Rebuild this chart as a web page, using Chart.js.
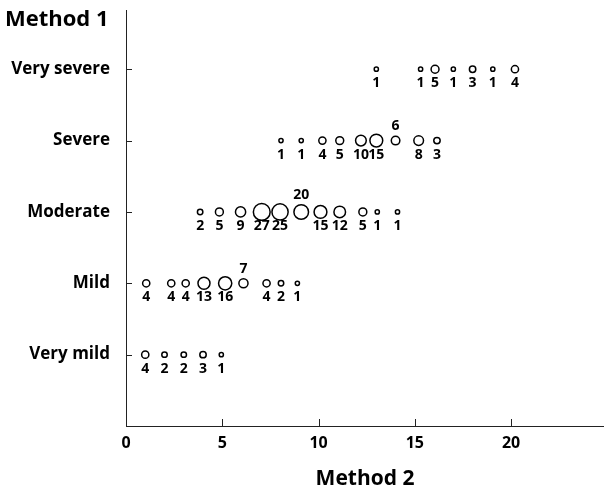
<!DOCTYPE html>
<html>
<head>
<meta charset="utf-8">
<script src="https://cdn.jsdelivr.net/npm/chart.js@4"></script>
<style>
  html, body { margin: 0; padding: 0; background: #fff; overflow: hidden; }
  #wrap { width: 604px; height: 492px; overflow: hidden; }
  #box { width: 614px; height: 492px; }
</style>
</head>
<body>
<div id="wrap"><div id="box"><canvas id="grafico"></canvas></div></div>
<script>
/* DADOS */
const categorias = ["Very mild", "Mild", "Moderate", "Severe", "Very severe"];
const xTicks = [0, 5, 10, 15, 20];

const veryMildX = [1.0, 2.0, 3.0, 4.0, 4.95];
const veryMildN = [4, 2, 2, 3, 1];

const mildX = [1.05, 2.35, 3.1, 4.05, 5.15, 6.1, 7.3, 8.05, 8.9];
const mildN = [4, 4, 4, 13, 16, 7, 4, 2, 1];

const moderateX = [3.85, 4.85, 5.95, 7.05, 8.0, 9.1, 10.1, 11.1, 12.3, 13.05, 14.1];
const moderateN = [2, 5, 9, 27, 25, 20, 15, 12, 5, 1, 1];

const severeX = [8.05, 9.1, 10.2, 11.1, 12.2, 13.0, 14.0, 15.2, 16.15];
const severeN = [1, 1, 4, 5, 10, 15, 6, 8, 3];

const verySevereX = [13.0, 15.3, 16.05, 17.0, 18.0, 19.05, 20.2];
const verySevereN = [1, 1, 5, 1, 3, 1, 4];

// rotulos que ficam acima do circulo: [linha, indice]
const rotulosAcima = [[1, 5], [2, 5], [3, 6]];

const linhas = [
    [veryMildX, veryMildN],
    [mildX, mildN],
    [moderateX, moderateN],
    [severeX, severeN],
    [verySevereX, verySevereN]
];

const fonte = "'Open Sans', sans-serif";

/* PLUGIN - rotulos, marcas dos eixos e titulo do eixo Y */
const extras = {
    id: "extras",
    afterDatasetsDraw(chart) {
        const ctx = chart.ctx;
        const xs = chart.scales.x, ys = chart.scales.y;
        ctx.save();
        ctx.strokeStyle = "#222";
        ctx.lineWidth = 1;
        // marcas do eixo Y (para dentro)
        for (let v = 1; v <= categorias.length; v++) {
            const y = Math.round(ys.getPixelForValue(v)) + 0.5;
            ctx.beginPath();
            ctx.moveTo(xs.left, y);
            ctx.lineTo(xs.left + 6, y);
            ctx.stroke();
        }
        // marcas do eixo X (para cima)
        xTicks.forEach(v => {
            const x = Math.round(xs.getPixelForValue(v)) + 0.5;
            ctx.beginPath();
            ctx.moveTo(x, ys.bottom);
            ctx.lineTo(x, ys.bottom - 7);
            ctx.stroke();
        });
        // numeros de cada circulo
        ctx.fillStyle = "#000";
        ctx.font = "bold 14px " + fonte;
        ctx.textAlign = "center";
        ctx.textBaseline = "middle";
        chart.data.datasets.forEach((ds, di) => {
            const meta = chart.getDatasetMeta(di);
            meta.data.forEach((pt, i) => {
                const acima = rotulosAcima.some(r => r[0] === di && r[1] === i);
                const r = ds.data[i].r;
                const y = acima ? pt.y - r - 10 : pt.y + 14;
                ctx.fillText(String(linhas[di][1][i]), pt.x, y);
            });
        });
        // titulo "Method 1"
        ctx.font = "bold 22px " + fonte;
        ctx.textAlign = "left";
        ctx.textBaseline = "alphabetic";
        ctx.fillText("Method 1", 5, 26);
        ctx.restore();
    }
};

/* GRAFICO */
new Chart(document.getElementById("grafico"), {
    type: "bubble",
    data: {
        datasets: linhas.map((l, k) => ({
            label: categorias[k],
            data: l[0].map((x, i) => ({ x: x, y: k + 1, r: 1.5 * Math.sqrt(l[1][i]) + 0.6 })),
            backgroundColor: "#fff",
            borderColor: "#000",
            borderWidth: 1.5,
            hoverRadius: 0
        }))
    },
    options: {
        responsive: true,
        maintainAspectRatio: false,
        animation: false,
        layout: { padding: { top: 10, right: 0, left: 0, bottom: 0 } },
        plugins: {
            legend: { display: false },
            tooltip: { enabled: false }
        },
        scales: {
            x: {
                type: "linear",
                min: 0,
                max: 24.83,
                afterBuildTicks: s => { s.ticks = xTicks.map(v => ({ value: v })); },
                afterFit: s => { s.height = 66; s.paddingLeft = 0; s.paddingRight = 0; },
                grid: { display: false, drawTicks: false },
                border: { display: true, color: "#222", width: 1 },
                ticks: {
                    color: "#000",
                    padding: 8,
                    maxRotation: 0,
                    font: { family: fonte, size: 16, weight: "bold" }
                },
                title: {
                    display: true,
                    text: "Method 2",
                    color: "#000",
                    padding: { top: 10, bottom: 0 },
                    font: { family: fonte, size: 21, weight: "bold" }
                }
            },
            y: {
                type: "linear",
                min: 0,
                max: 5.83,
                afterBuildTicks: s => { s.ticks = categorias.map((c, i) => ({ value: i + 1 })); },
                afterFit: s => { s.width = 126; s.paddingTop = 0; s.paddingBottom = 0; },
                grid: { display: false, drawTicks: false },
                border: { display: true, color: "#222", width: 1 },
                ticks: {
                    color: "#000",
                    padding: 16,
                    font: { family: fonte, size: 17, weight: "bold" },
                    callback: v => categorias[v - 1]
                }
            }
        }
    },
    plugins: [extras]
});
</script>
</body>
</html>
